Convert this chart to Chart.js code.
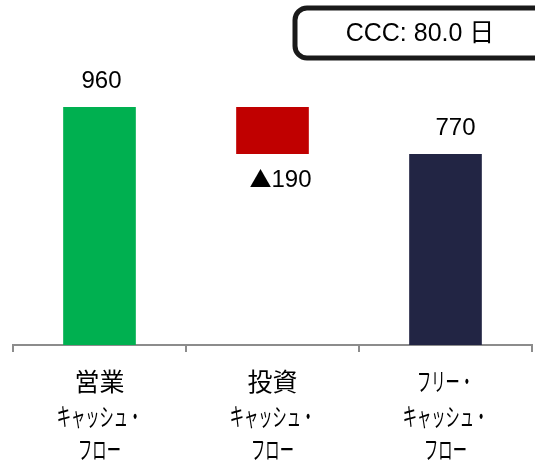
<!DOCTYPE html>
<html lang="ja">
<head>
<meta charset="utf-8">
<script src="https://cdn.jsdelivr.net/npm/chart.js@4"></script>
<style>
  html, body { margin: 0; padding: 0; background: #fff; }
  #wrap { width: 535px; height: 461px; }
</style>
</head>
<body>
<div id="wrap"><canvas id="cfChart"></canvas></div>
<script>
// カテゴリ（1行目は大きめ、カナは長体で描く）
const categories = [
    ['営業', 'キャッシュ・', 'フロー'],
    ['投資', 'キャッシュ・', 'フロー'],
    ['フリー・', 'キャッシュ・', 'フロー']
];
const cashFlows = [960, -190, 770];   // 営業CF, 投資CF, フリーCF
const barColors = ['#00b050', '#c00000', '#222544'];
const cccText = 'CCC: 80.0 日';

// 滝グラフ用に [始点, 終点] を作る
const floatingBars = [
    [0, cashFlows[0]],
    [cashFlows[0] + cashFlows[1], cashFlows[0]],
    [0, cashFlows[2]]
];

const NUM_FONT = '24px "Liberation Sans", Arial, sans-serif';
const JP_FONT = '"Noto Sans CJK JP", sans-serif';

const valueLabels = {
    id: 'valueLabels',
    afterDatasetsDraw(chart) {
        const { ctx } = chart;
        const meta = chart.getDatasetMeta(0);
        ctx.save();
        ctx.fillStyle = '#000';
        ctx.textBaseline = 'middle';
        meta.data.forEach((bar, i) => {
            const v = cashFlows[i];
            const props = bar.getProps(['x', 'y', 'base'], true);
            const top = Math.min(props.y, props.base);
            const bottom = Math.max(props.y, props.base);
            if (v < 0) {
                // ▲ は大きめの記号で描く
                const num = `${Math.abs(v)}`;
                ctx.font = '22px ' + JP_FONT;
                const triW = ctx.measureText('▲').width;
                ctx.font = NUM_FONT;
                const numW = ctx.measureText(num).width;
                const left = props.x + 8 - (triW + numW) / 2;
                ctx.textAlign = 'left';
                ctx.font = '22px ' + JP_FONT;
                ctx.fillText('▲', left, bottom + 25);
                ctx.font = NUM_FONT;
                ctx.fillText(num, left + triW, bottom + 26);
            } else {
                ctx.textAlign = 'center';
                ctx.font = NUM_FONT;
                const dx = i === 2 ? 10 : 2;
                ctx.fillText(`${v}`, props.x + dx, top - 26);
            }
        });
        ctx.restore();
    }
};

const categoryLabels = {
    id: 'categoryLabels',
    afterDraw(chart) {
        const { ctx } = chart;
        const xScale = chart.scales.x;
        const lineY = [381, 416, 449];
        ctx.save();
        ctx.fillStyle = '#000';
        ctx.textAlign = 'center';
        ctx.textBaseline = 'middle';
        categories.forEach((lines, i) => {
            const cx = xScale.getPixelForTick(i);
            lines.forEach((text, j) => {
                const isKana = j > 0 || i === 2;
                ctx.save();
                ctx.translate(cx, lineY[j]);
                if (isKana) {
                    ctx.scale(0.57, 1);
                    ctx.font = '25px ' + JP_FONT;
                } else {
                    ctx.font = '25px ' + JP_FONT;
                }
                ctx.fillText(text, 0, 0);
                ctx.restore();
            });
        });
        ctx.restore();
    }
};

const cccBox = {
    id: 'cccBox',
    afterDraw(chart) {
        const { ctx } = chart;
        ctx.save();
        ctx.lineWidth = 5;
        ctx.strokeStyle = '#1a1a1a';
        ctx.beginPath();
        ctx.roundRect(295, 8, 270, 50, 12);
        ctx.stroke();
        ctx.font = '25px "Liberation Sans", Arial, ' + JP_FONT;
        ctx.fillStyle = '#000';
        ctx.textAlign = 'center';
        ctx.textBaseline = 'middle';
        ctx.fillText(cccText, 420, 34);
        ctx.restore();
    }
};

const chart = new Chart(document.getElementById('cfChart'), {
    type: 'bar',
    data: {
        labels: categories.map(c => c.join('')),
        datasets: [{
            data: floatingBars,
            backgroundColor: barColors,
            borderWidth: 0,
            barPercentage: 1,
            categoryPercentage: 0.42
        }]
    },
    options: {
        responsive: true,
        maintainAspectRatio: false,
        animation: false,
        layout: { padding: { top: 97, left: 13, right: 3, bottom: 0 } },
        plugins: {
            legend: { display: false },
            tooltip: { enabled: false }
        },
        scales: {
            y: { display: false, min: 0, max: 1000 },
            x: {
                grid: {
                    drawOnChartArea: false,
                    drawTicks: true,
                    tickLength: 7,
                    color: (c) => c.index === categories.length ? 'rgba(0,0,0,0)' : '#8c8c8c',
                    lineWidth: 2
                },
                border: { color: '#8c8c8c', width: 2 },
                ticks: { display: false },
                afterFit: (scale) => { scale.height = 116; }
            }
        }
    },
    plugins: [valueLabels, categoryLabels, cccBox]
});
</script>
</body>
</html>
